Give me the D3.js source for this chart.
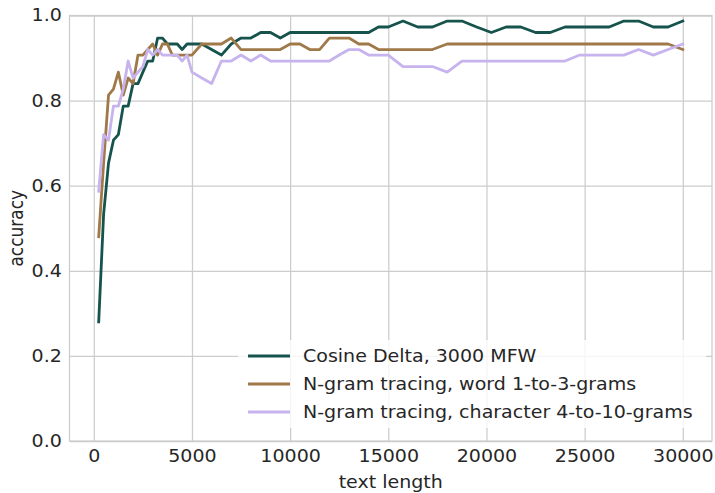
<!DOCTYPE html>
<html>
<head>
<meta charset="utf-8">
<script src="https://cdn.jsdelivr.net/npm/d3@7"></script>
<style>
  html, body { margin: 0; padding: 0; background: #fff; }
  svg { display: block; font-family: "DejaVu Sans", sans-serif; }
</style>
</head>
<body>
<svg id="chart" width="715" height="493"></svg>
<script>
// Text length (x) at which each accuracy was measured
const textLengths = [
  250, 500, 750, 1000, 1250, 1500, 1750, 2000, 2250, 2500,
  2750, 3000, 3250, 3500, 3750, 4000, 4250, 4500, 4750, 5000,
  5500, 6000, 6500, 7000, 7500, 8000, 8500, 9000, 9500, 10000,
  10500, 11000, 11500, 12000, 12500, 13000, 13500, 14000, 14500, 15000,
  15750, 16500, 17250, 18000, 18750, 19500, 20250, 21000, 21750, 22500,
  23250, 24000, 24750, 25500, 26250, 27000, 27750, 28500, 29250, 30000
];

// Accuracy per method
const cosineDelta = [
  0.280, 0.533, 0.653, 0.707, 0.720, 0.787, 0.787, 0.840, 0.840, 0.867,
  0.893, 0.893, 0.947, 0.947, 0.933, 0.933, 0.933, 0.920, 0.933, 0.933,
  0.933, 0.920, 0.907, 0.933, 0.947, 0.947, 0.960, 0.960, 0.947, 0.960,
  0.960, 0.960, 0.960, 0.960, 0.960, 0.960, 0.960, 0.960, 0.973, 0.973,
  0.987, 0.973, 0.973, 0.987, 0.987, 0.973, 0.960, 0.973, 0.973, 0.960,
  0.960, 0.973, 0.973, 0.973, 0.973, 0.987, 0.987, 0.973, 0.973, 0.987
];
const wordNgrams = [
  0.480, 0.653, 0.813, 0.827, 0.867, 0.813, 0.853, 0.840, 0.907, 0.907,
  0.920, 0.933, 0.907, 0.933, 0.933, 0.907, 0.907, 0.907, 0.907, 0.907,
  0.933, 0.933, 0.933, 0.947, 0.920, 0.920, 0.920, 0.920, 0.920, 0.933,
  0.933, 0.920, 0.920, 0.947, 0.947, 0.947, 0.933, 0.933, 0.920, 0.920,
  0.920, 0.920, 0.920, 0.933, 0.933, 0.933, 0.933, 0.933, 0.933, 0.933,
  0.933, 0.933, 0.933, 0.933, 0.933, 0.933, 0.933, 0.933, 0.933, 0.920
];
const charNgrams = [
  0.587, 0.720, 0.707, 0.787, 0.787, 0.827, 0.893, 0.853, 0.867, 0.880,
  0.920, 0.907, 0.920, 0.907, 0.907, 0.907, 0.907, 0.893, 0.907, 0.867,
  0.853, 0.840, 0.893, 0.893, 0.907, 0.893, 0.907, 0.893, 0.893, 0.893,
  0.893, 0.893, 0.893, 0.893, 0.907, 0.920, 0.920, 0.907, 0.907, 0.907,
  0.880, 0.880, 0.880, 0.867, 0.893, 0.893, 0.893, 0.893, 0.893, 0.893,
  0.893, 0.893, 0.907, 0.907, 0.907, 0.907, 0.920, 0.907, 0.920, 0.933
];

const seriesNames = [
  "Cosine Delta, 3000 MFW",
  "N-gram tracing, word 1-to-3-grams",
  "N-gram tracing, character 4-to-10-grams"
];
const seriesColors = ["#16534c", "#a07949", "#c7b3ed"];

const xTicks = [0, 5000, 10000, 15000, 20000, 25000, 30000];
const yTicks = [0.0, 0.2, 0.4, 0.6, 0.8, 1.0];
const xLabel = "text length";
const yLabel = "accuracy";

// ---- layout ----
const plot = { left: 69.5, right: 712, top: 15.5, bottom: 441 };
const FONT = 17;
const WIDEN = 1.12;          // horizontal glyph stretch
const TEXT = "#262626";
const GRID = "#cccccc";
const LINE_W = 2.8;

const svg = d3.select("#chart");

const [xmin, xmax] = d3.extent(textLengths);
const pad = (xmax - xmin) * 0.05;
const x = d3.scaleLinear().domain([xmin - pad, xmax + pad]).range([plot.left, plot.right]);
const y = d3.scaleLinear().domain([0, 1]).range([plot.bottom, plot.top]);

// ---- grid + tick labels via axes ----
const xAxis = d3.axisBottom(x)
  .tickValues(xTicks)
  .tickFormat(d3.format("d"))
  .tickSizeInner(-(plot.bottom - plot.top))
  .tickSizeOuter(0)
  .tickPadding(9);

const gx = svg.append("g")
  .attr("transform", `translate(0,${plot.bottom})`)
  .call(xAxis);

const yAxis = d3.axisLeft(y)
  .tickValues(yTicks)
  .tickFormat(d3.format(".1f"))
  .tickSizeInner(-(plot.right - plot.left))
  .tickSizeOuter(0)
  .tickPadding(6.8);

const gy = svg.append("g")
  .attr("transform", `translate(${plot.left},0)`)
  .call(yAxis);

[gx, gy].forEach(g => {
  g.select(".domain").remove();
  g.selectAll(".tick line").attr("stroke", GRID).attr("stroke-width", 1.25);
  g.selectAll(".tick text")
    .attr("fill", TEXT)
    .attr("font-size", FONT)
    .attr("font-family", "DejaVu Sans")
    .attr("transform", `scale(${WIDEN},1)`);
});

// frame
svg.append("rect")
  .attr("x", plot.left).attr("y", plot.top)
  .attr("width", plot.right - plot.left)
  .attr("height", plot.bottom - plot.top)
  .attr("fill", "none")
  .attr("stroke", GRID)
  .attr("stroke-width", 1.25);

// ---- lines ----
const seriesValues = [cosineDelta, wordNgrams, charNgrams];
const line = d3.line()
  .x(d => x(d[0]))
  .y(d => y(d[1]));

seriesValues.forEach((vals, i) => {
  const pts = textLengths.map((t, j) => [t, vals[j]]);
  svg.append("path")
    .datum(pts)
    .attr("d", line)
    .attr("fill", "none")
    .attr("stroke", seriesColors[i])
    .attr("stroke-width", LINE_W)
    .attr("stroke-linejoin", "round")
    .attr("stroke-linecap", "square");
});

// ---- axis titles ----
svg.append("text")
  .attr("transform", `translate(${(plot.left + plot.right) / 2},488) scale(${WIDEN},1)`)
  .attr("text-anchor", "middle")
  .attr("font-size", FONT)
  .attr("fill", TEXT)
  .text(xLabel);

svg.append("text")
  .attr("transform", `translate(23,${(plot.top + plot.bottom) / 2}) scale(${WIDEN},1) rotate(-90)`)
  .attr("text-anchor", "middle")
  .attr("font-size", FONT)
  .attr("fill", TEXT)
  .text(yLabel);

// ---- legend ----
const legend = svg.append("g");
legend.append("rect")
  .attr("x", 238).attr("y", 340)
  .attr("width", 468).attr("height", 88)
  .attr("rx", 3)
  .attr("fill", "#fff")
  .attr("fill-opacity", 0.8);

seriesNames.forEach((name, i) => {
  const ly = 356 + i * 28;
  legend.append("line")
    .attr("x1", 248).attr("x2", 290)
    .attr("y1", ly).attr("y2", ly)
    .attr("stroke", seriesColors[i])
    .attr("stroke-width", LINE_W);
  legend.append("text")
    .attr("transform", `translate(303,${ly + 6}) scale(${WIDEN},1)`)
    .attr("font-size", FONT)
    .attr("fill", TEXT)
    .text(name);
});
</script>
</body>
</html>
